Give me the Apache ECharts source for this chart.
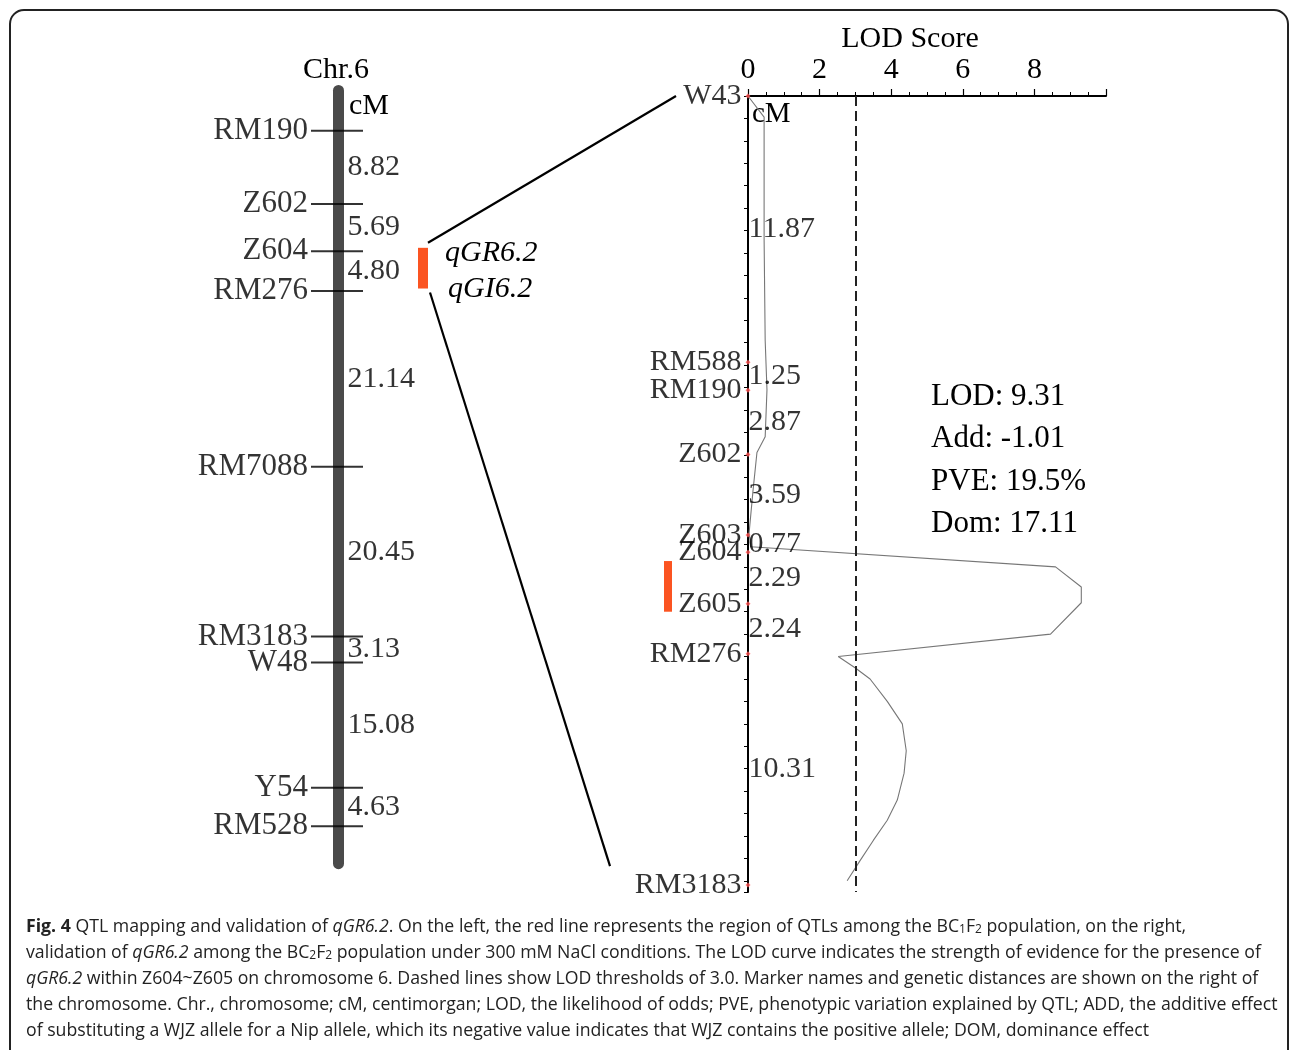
<!DOCTYPE html>
<html><head><meta charset="utf-8">
<script src="https://cdn.jsdelivr.net/npm/echarts@6/dist/echarts.min.js"></script>
<style>html,body{margin:0;padding:0;background:#fff}#c{width:1290px;height:1050px}</style>
</head><body><div id="c"></div>
<script>
// ---- Left map (BC1F2 population) ----
const leftMarkers = ['RM190','Z602','Z604','RM276','RM7088','RM3183','W48','Y54','RM528'];
const leftIntervals = [8.82, 5.69, 4.80, 21.14, 20.45, 3.13, 15.08, 4.63];
const leftQtl = [14.1, 19.0];          // cM span of the red QTL bar
const chrExtent = [-5.5, 88.9];        // drawn extent of chromosome body (cM)

// ---- Right map (BC2F2 population) ----
const rightMarkers = ['W43','RM588','RM190','Z602','Z603','Z604','Z605','RM276','RM3183'];
const rightIntervals = [11.87, 1.25, 2.87, 3.59, 0.77, 2.29, 2.24, 10.31];
const rightQtl = [20.74, 23.0];

// ---- LOD profile (position cM, LOD) ----
const lodPos = [0, 0.94, 6.4, 10.9, 13.1, 15.2, 15.9, 17.6, 19.5, 20.1, 21.0, 21.9, 22.6, 24.0, 25.0, 25.5, 26.0, 27.0, 28.0, 29.2, 30.2, 31.4, 32.3, 33.2, 34.1, 35.0];
const lodVal = [0, 0.45, 0.45, 0.48, 0.53, 0.48, 0.25, 0.14, 0.03, 0.08, 8.59, 9.31, 9.31, 8.45, 2.52, 2.99, 3.41, 3.89, 4.31, 4.42, 4.36, 4.17, 3.89, 3.50, 3.13, 2.77];
const lodTicks = [0, 2, 4, 6, 8];
const threshold = 3.0;
const qtlNames = ['qGR6.2', 'qGI6.2'];
const qtlStats = ['LOD: 9.31', 'Add: -1.01', 'PVE: 19.5%', 'Dom: 17.11'];

const captionLines = [
  '{b|Fig. 4} QTL mapping and validation of {i|qGR6.2}. On the left, the red line represents the region of QTLs among the BC{s|1}F{s|2} population, on the right,',
  'validation of {i|qGR6.2} among the BC{s|2}F{s|2} population under 300 mM NaCl conditions. The LOD curve indicates the strength of evidence for the presence of',
  '{i|qGR6.2} within Z604~Z605 on chromosome 6. Dashed lines show LOD thresholds of 3.0. Marker names and genetic distances are shown on the right of',
  'the chromosome. Chr., chromosome; cM, centimorgan; LOD, the likelihood of odds; PVE, phenotypic variation explained by QTL; ADD, the additive effect',
  'of substituting a WJZ allele for a Nip allele, which its negative value indicates that WJZ contains the positive allele; DOM, dominance effect'
];

function cumulative(iv){ const out=[0]; iv.forEach(d=>out.push(+(out[out.length-1]+d).toFixed(2))); return out; }
const leftCum = cumulative(leftIntervals);
const rightCum = cumulative(rightIntervals);
const leftMid = leftIntervals.map((d,i)=>({value:[337, (leftCum[i]+leftCum[i+1])/2], name: d.toFixed(2)}));
const rightMid = rightIntervals.map((d,i)=>({value:[0, (rightCum[i]+rightCum[i+1])/2], name: d.toFixed(2)}));

const SERIF = 'Liberation Serif';
const RED = '#fb5421';
const CAP = 17.7;

const chart = echarts.init(document.getElementById('c'), null, {renderer:'canvas'});

const rectItem = (xOff, w, r, color) => function(params, api){
  const p0 = api.coord([api.value(0), api.value(1)]);
  const p1 = api.coord([api.value(0), api.value(2)]);
  return {type:'rect', shape:{x:p0[0]+xOff - w/2, y:p0[1], width:w, height:p1[1]-p0[1], r:r}, style:{fill:color}};
};

const graphics = [
  {type:'rect', shape:{x:10, y:10, width:1278, height:1100, r:14}, style:{fill:'none', stroke:'#222', lineWidth:2}, z:0},
  {type:'text', x:336, y:70, style:{text:'Chr.6', font:`30px "${SERIF}"`, fill:'#000', textAlign:'center', textVerticalAlign:'middle'}},
  {type:'text', x:349, y:106, style:{text:'cM', font:`30px "${SERIF}"`, fill:'#000', textAlign:'left', textVerticalAlign:'middle'}},
  {type:'text', x:752, y:114, style:{text:'cM', font:`29px "${SERIF}"`, fill:'#000', textAlign:'left', textVerticalAlign:'middle'}},
  {type:'text', x:910, y:39, style:{text:'LOD Score', font:`30px "${SERIF}"`, fill:'#000', textAlign:'center', textVerticalAlign:'middle'}},
];
qtlNames.forEach((t,i)=>graphics.push({type:'text', x:445 + i*3, y:253 + i*36, style:{text:t, font:`italic 30px "${SERIF}"`, fill:'#000', textAlign:'left', textVerticalAlign:'middle'}}));
qtlStats.forEach((t,i)=>graphics.push({type:'text', x:931, y:397 + i*42.3, style:{text:t, font:`31px "${SERIF}"`, fill:'#000', textAlign:'left', textVerticalAlign:'middle'}}));
captionLines.forEach((t,i)=>graphics.push({type:'text', x:26, y:927 + i*26, style:{
  text:t, font:`${CAP}px "Open Sans"`, fill:'#222', textAlign:'left', textVerticalAlign:'middle',
  rich:{
    b:{fontFamily:'Open Sans', fontSize:CAP, fontWeight:'bold', fill:'#222'},
    i:{fontFamily:'Open Sans', fontSize:CAP, fontStyle:'italic', fill:'#222'},
    s:{fontFamily:'Open Sans', fontSize:12, fill:'#222', verticalAlign:'bottom', lineHeight:12}
  }}}));

const option = {
  animation:false,
  backgroundColor:'#fff',
  grid:[
    {left:0, top:85, width:500, height:785},
    {left:748, top:96, width:358, height:796}
  ],
  xAxis:[
    {gridIndex:0, type:'value', min:0, max:500, show:false},
    {gridIndex:1, type:'value', position:'top', min:0, max:10, interval:2,
      axisLine:{show:true, onZero:false, lineStyle:{color:'#000', width:2}},
      axisTick:{show:true, length:7, lineStyle:{color:'#000', width:1.2}},
      minorTick:{show:true, splitNumber:4, length:4, lineStyle:{color:'#000', width:1}},
      splitLine:{show:false}, minorSplitLine:{show:false},
      axisLabel:{margin:11, color:'#000', fontFamily:SERIF, fontSize:30,
        formatter:v=>lodTicks.includes(v)?String(v):''}
    }
  ],
  yAxis:[
    {gridIndex:0, type:'value', min:-5.5, max:89, inverse:true, show:false},
    {gridIndex:1, type:'value', min:0, max:35.5, interval:1, inverse:true,
      axisLine:{show:true, onZero:false, lineStyle:{color:'#000', width:2}},
      axisTick:{show:true, length:4, lineStyle:{color:'#000', width:1}},
      axisLabel:{show:false}, splitLine:{show:false}}
  ],
  series:[
    {type:'custom', xAxisIndex:0, yAxisIndex:0, data:[[338.5, chrExtent[0], chrExtent[1]]],
      renderItem: rectItem(0, 11, 5.5, '#4a4a4a'), z:1, silent:true},
    {type:'scatter', xAxisIndex:0, yAxisIndex:0, symbol:'rect', symbolSize:[52,2],
      itemStyle:{color:'#000'}, z:3,
      data: leftCum.map((c,i)=>({value:[337,c], name:leftMarkers[i]})),
      label:{show:true, position:'left', distance:3, formatter:'{b}', color:'#000', fontFamily:SERIF, fontSize:31}},
    {type:'scatter', xAxisIndex:0, yAxisIndex:0, symbol:'circle', symbolSize:1,
      itemStyle:{color:'transparent'}, data:leftMid, z:3,
      label:{show:true, position:'right', distance:10, formatter:'{b}', color:'#000', fontFamily:SERIF, fontSize:30}},
    {type:'custom', xAxisIndex:0, yAxisIndex:0, data:[[423, leftQtl[0], leftQtl[1]]],
      renderItem: rectItem(0, 10, 0, RED), silent:true},
    {type:'line', xAxisIndex:1, yAxisIndex:1, symbol:'none',
      data: lodPos.map((p,i)=>[lodVal[i], p]),
      lineStyle:{color:'#777', width:1.1}, z:2,
      markLine:{silent:true, symbol:'none', label:{show:false},
        lineStyle:{type:[10,5], color:'#222', width:2},
        data:[{xAxis:threshold}]}},
    {type:'scatter', xAxisIndex:1, yAxisIndex:1, symbol:'diamond', symbolSize:5,
      itemStyle:{color:'#ff5050'}, z:4,
      data: rightCum.map((c,i)=>({value:[0,c], name:rightMarkers[i]})),
      label:{show:true, position:'left', distance:4, formatter:'{b}', color:'#000', fontFamily:SERIF, fontSize:30}},
    {type:'scatter', xAxisIndex:1, yAxisIndex:1, symbol:'circle', symbolSize:1,
      itemStyle:{color:'transparent'}, data:rightMid, z:3,
      label:{show:true, position:'right', distance:0, formatter:'{b}', color:'#000', fontFamily:SERIF, fontSize:30}},
    {type:'custom', xAxisIndex:1, yAxisIndex:1, data:[[0, rightQtl[0], rightQtl[1]]],
      renderItem: rectItem(-80, 8, 0, RED), clip:false, silent:true}
  ],
  graphic: graphics
};
chart.setOption(option);

// connector lines from left QTL bar to the expanded right map
const lt = chart.convertToPixel({gridIndex:0}, [428, leftQtl[0]]);
const lb = chart.convertToPixel({gridIndex:0}, [430, leftQtl[1]]);
const rt = chart.convertToPixel({gridIndex:1}, [0, rightCum[0]]);
const rb = chart.convertToPixel({gridIndex:1}, [0, rightCum[rightCum.length-1]]);
graphics.push({type:'line', shape:{x1:lt[0], y1:lt[1]-5, x2:rt[0]-72, y2:rt[1]}, style:{stroke:'#000', lineWidth:2.2}});
graphics.push({type:'line', shape:{x1:lb[0], y1:lb[1]+4, x2:rb[0]-138, y2:rb[1]-19}, style:{stroke:'#000', lineWidth:2.2}});
chart.setOption({graphic: graphics});
</script></body></html>
